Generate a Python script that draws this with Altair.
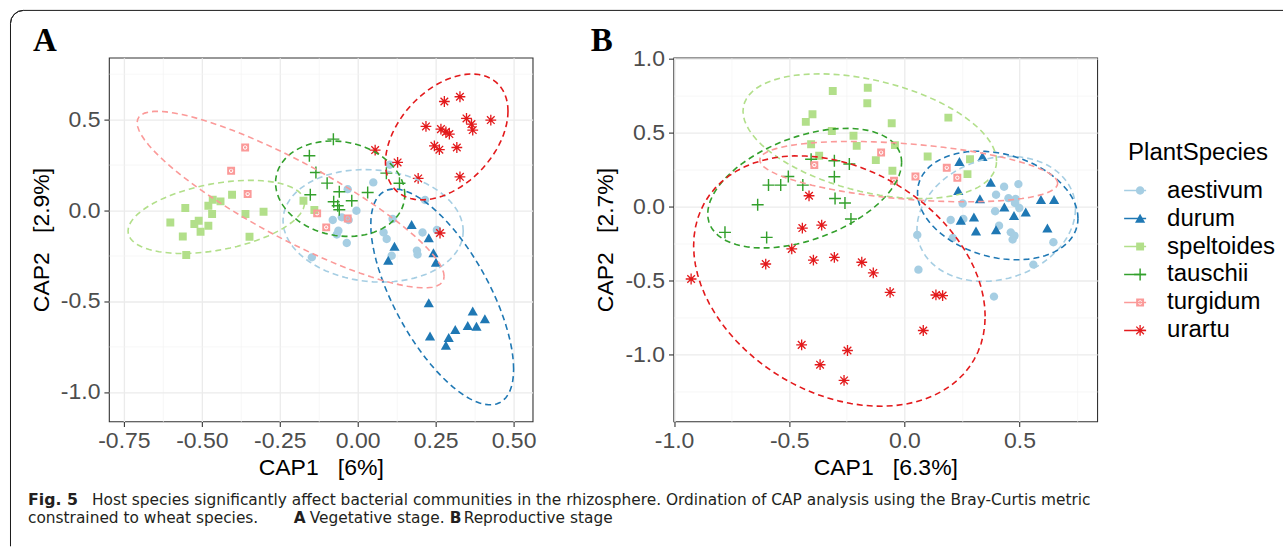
import altair as alt
import numpy as np
import pandas as pd

species = ["aestivum", "durum", "speltoides", "tauschii", "turgidum", "urartu"]
colors = ["#A6CEE3", "#1F78B4", "#B2DF8A", "#33A02C", "#FB9A99", "#E31A1C"]

# ---------------- Panel A (vegetative) ----------------
A_aestivum_x = [0.103, 0.050, -0.032, -0.004, -0.029, -0.051, -0.080, -0.062, -0.067, -0.035, -0.147, 0.112, 0.083, 0.093, 0.109, 0.190, 0.192, 0.216, 0.208, 0.254]
A_aestivum_y = [0.249, 0.152, 0.115, -0.004, -0.055, -0.040, -0.055, -0.114, -0.134, -0.181, -0.260, -0.049, -0.123, -0.159, -0.251, -0.223, -0.245, 0.055, -0.123, -0.110]
A_durum_x = [0.173, 0.228, 0.118, 0.098, 0.243, 0.251, 0.228, 0.369, 0.408, 0.353, 0.381, 0.313, 0.292, 0.283, 0.232]
A_durum_y = [-0.081, -0.154, -0.200, -0.278, -0.236, -0.288, -0.511, -0.557, -0.599, -0.636, -0.641, -0.659, -0.703, -0.745, -0.694]
A_speltoides_x = [-0.553, -0.601, -0.561, -0.550, -0.524, -0.510, -0.504, -0.479, -0.479, -0.467, -0.465, -0.440, -0.403, -0.360, -0.347, -0.302, -0.174, -0.139]
A_speltoides_y = [0.011, -0.068, -0.145, -0.247, -0.077, -0.059, -0.119, -0.086, 0.024, -0.022, 0.057, 0.048, 0.084, -0.022, -0.147, -0.009, 0.051, 0.000]
A_tauschii_x = [-0.078, -0.155, -0.134, -0.098, -0.152, -0.059, -0.077, -0.064, -0.059, -0.019, 0.032, 0.092, 0.134]
A_tauschii_y = [0.390, 0.299, 0.207, 0.148, 0.084, 0.101, 0.046, 0.024, 0.002, 0.051, 0.097, 0.203, 0.147]
A_turgidum_x = [-0.361, -0.406, -0.353, -0.130, -0.101, -0.032]
A_turgidum_y = [0.344, 0.216, 0.088, -0.018, -0.095, -0.046]
A_urartu_x = [0.278, 0.328, 0.349, 0.365, 0.369, 0.427, 0.219, 0.267, 0.283, 0.294, 0.246, 0.262, 0.318, 0.328, 0.056, 0.128, 0.194, 0.264]
A_urartu_y = [0.597, 0.623, 0.504, 0.473, 0.440, 0.495, 0.460, 0.445, 0.430, 0.418, 0.353, 0.332, 0.344, 0.183, 0.330, 0.262, 0.174, -0.126]

# ---------------- Panel B (reproductive) ----------------
B_aestivum_x = [0.433, 0.495, 0.398, 0.452, 0.483, 0.480, 0.499, 0.394, 0.253, 0.256, 0.201, 0.411, 0.462, 0.478, 0.470, 0.210, 0.056, 0.061, 0.560, 0.647, 0.389]
B_aestivum_y = [0.135, 0.153, 0.081, 0.058, 0.052, 0.025, -0.009, -0.031, 0.022, -0.083, -0.090, -0.128, -0.173, -0.196, -0.222, -0.211, -0.191, -0.425, -0.391, -0.240, -0.607]
B_durum_x = [0.239, 0.339, 0.234, 0.375, 0.328, 0.434, 0.476, 0.527, 0.245, 0.302, 0.311, 0.398, 0.593, 0.650, 0.621]
B_durum_y = [0.303, 0.337, 0.108, 0.164, 0.052, -0.004, -0.061, -0.038, -0.094, -0.072, -0.166, -0.157, 0.047, 0.047, -0.146]
B_speltoides_x = [-0.311, -0.159, -0.161, -0.399, -0.428, -0.055, -0.315, -0.221, -0.207, -0.041, -0.405, -0.370, -0.124, -0.052, 0.101, 0.191, 0.285, 0.274]
B_speltoides_y = [0.782, 0.804, 0.699, 0.625, 0.573, 0.564, 0.512, 0.479, 0.411, 0.416, 0.422, 0.344, 0.315, 0.243, 0.339, 0.602, 0.321, 0.220]
B_tauschii_x = [-0.405, -0.304, -0.239, -0.504, -0.537, -0.590, -0.441, -0.304, -0.301, -0.258, -0.637, -0.232, -0.779, -0.598]
B_tauschii_y = [0.321, 0.310, 0.288, 0.204, 0.146, 0.146, 0.146, 0.202, 0.056, 0.025, 0.013, -0.083, -0.173, -0.207]
B_turgidum_x = [-0.391, -0.101, -0.045, 0.048, 0.184, 0.230]
B_turgidum_y = [0.281, 0.366, 0.175, 0.204, 0.263, 0.196]
B_urartu_x = [-0.926, -0.602, -0.489, -0.443, -0.359, -0.414, -0.395, -0.304, -0.185, -0.135, -0.062, 0.137, 0.166, 0.082, -0.446, -0.366, -0.247, -0.262]
B_urartu_y = [-0.488, -0.387, -0.285, -0.144, -0.124, 0.074, -0.360, -0.342, -0.375, -0.447, -0.578, -0.596, -0.600, -0.836, -0.933, -1.067, -0.971, -1.173]

A_x_ticks = [-0.75, -0.625, -0.5, -0.375, -0.25, -0.125, 0.0, 0.125, 0.25, 0.375, 0.5]
A_y_ticks = [-1.0, -0.75, -0.5, -0.25, 0.0, 0.25, 0.5, 0.75]
B_x_ticks = [-1.0, -0.75, -0.5, -0.25, 0.0, 0.25, 0.5, 0.75]
B_y_ticks = [-1.25, -1.0, -0.75, -0.5, -0.25, 0.0, 0.25, 0.5, 0.75, 1.0]

caption_bold = "Fig. 5"
caption_line1 = ("Host species significantly affect bacterial communities in the rhizosphere. "
                 "Ordination of CAP analysis using the Bray-Curtis metric")
caption_line2 = ["constrained to wheat species.", "A", "Vegetative stage.", "B", "Reproductive stage"]

PANEL_A = {
    "aestivum": (A_aestivum_x, A_aestivum_y), "durum": (A_durum_x, A_durum_y),
    "speltoides": (A_speltoides_x, A_speltoides_y), "tauschii": (A_tauschii_x, A_tauschii_y),
    "turgidum": (A_turgidum_x, A_turgidum_y), "urartu": (A_urartu_x, A_urartu_y),
}
PANEL_B = {
    "aestivum": (B_aestivum_x, B_aestivum_y), "durum": (B_durum_x, B_durum_y),
    "speltoides": (B_speltoides_x, B_speltoides_y), "tauschii": (B_tauschii_x, B_tauschii_y),
    "turgidum": (B_turgidum_x, B_turgidum_y), "urartu": (B_urartu_x, B_urartu_y),
}


# ---------- stat_ellipse (type "t", level 0.95) ----------
def cov_trob(X, nu=5, maxit=25, tol=0.01):
    n, p = X.shape
    wt = np.ones(n)
    loc = X.mean(axis=0)
    w = np.sqrt(wt)
    Xc = X - loc
    for _ in range(maxit):
        w0 = w
        Xc = X - loc
        _, d, Vt = np.linalg.svd(np.sqrt(w / w.sum())[:, None] * Xc, full_matrices=False)
        wX = Xc @ Vt.T @ np.diag(1.0 / d)
        Q = (wX ** 2).sum(axis=1)
        w = (wt * (nu + p)) / (nu + Q)
        loc = (w[:, None] * X).sum(axis=0) / w.sum()
        if np.all(np.abs(w - w0) < tol):
            break
    sw = np.sqrt(w)[:, None] * Xc
    cov = sw.T @ sw / wt.sum()
    return loc, cov


def ellipse_df(panel, segments=80, level=0.95):
    rows = []
    for sp, (xs, ys) in panel.items():
        X = np.column_stack([xs, ys])
        center, shape = cov_trob(X)
        dfd = len(xs) - 1
        qf = dfd / 2.0 * ((1 - level) ** (-2.0 / dfd) - 1)
        radius = np.sqrt(2 * qf)
        ang = np.linspace(0, 2 * np.pi, segments + 1)
        circ = np.column_stack([np.cos(ang), np.sin(ang)])
        chol = np.linalg.cholesky(shape).T
        pts = center + radius * circ @ chol
        for i, (ex, ey) in enumerate(pts):
            rows.append({"species": sp, "x": ex, "y": ey, "i": i})
    return pd.DataFrame(rows)


def points_df(panel):
    rows = []
    for sp, (xs, ys) in panel.items():
        for a, b in zip(xs, ys):
            rows.append({"species": sp, "x": a, "y": b})
    return pd.DataFrame(rows)


# ---------- symbol shapes (unit square -1..1) ----------
def bar(angle, L, W):
    t = np.deg2rad(angle)
    u = np.array([np.cos(t), np.sin(t)])
    nvec = np.array([-np.sin(t), np.cos(t)])
    c = [-L * u - W * nvec, L * u - W * nvec, L * u + W * nvec, -L * u + W * nvec]
    return "M" + "L".join(f"{p[0]:.3f},{p[1]:.3f}" for p in c) + "Z"


circle_path = "M0.7,0A0.7,0.7,0,1,1,-0.7,0A0.7,0.7,0,1,1,0.7,0Z"
triangle_path = "M0,-0.8L0.85,0.7L-0.85,0.7Z"
square_path = "M-0.66,-0.66H0.66V0.66H-0.66Z"
plus_path = bar(0, 1.0, 0.12) + " " + bar(90, 1.0, 0.12)
ring_square_path = (square_path + " M0.36,0A0.36,0.36,0,1,0,-0.36,0A0.36,0.36,0,1,0,0.36,0Z"
                    + " M0.2,0A0.2,0.2,0,1,1,-0.2,0A0.2,0.2,0,1,1,0.2,0Z")
star_path = " ".join(bar(a, 0.9, 0.11) for a in (0, 45, 90, 135))
shape_paths = [circle_path, triangle_path, square_path, plus_path, ring_square_path, star_path]

FONT = "Liberation Sans"
NB = "\u00a0"
MINUS = "\u2212"

legend_common = dict(orient="none", legendY=83, padding=0,
                     titleFont=FONT, titleFontSize=24, titleFontWeight="normal",
                     labelFont=FONT, labelFontSize=24, rowPadding=4, titlePadding=14)
pt_legend = alt.Legend(legendX=1020, title="PlantSpecies", symbolSize=144, labelOffset=15,
                       symbolStrokeWidth=0, titleColor="black", labelColor="black", **legend_common)
ln_legend = alt.Legend(legendX=1015, title=" ", symbolType="stroke", symbolSize=484,
                       symbolStrokeWidth=1.6, symbolDash=[1, 0], labelOffset=10,
                       labelExpr="' '", titleColor="transparent", labelColor="transparent",
                       **legend_common)


def make_axis(values, test, fmt, title, lab_pad, title_pad):
    return alt.Axis(
        values=values, title=title,
        labelExpr=f"({test}) ? replace(format(datum.value, '{fmt}'), '{MINUS}', '-') : ''",
        gridColor={"condition": {"test": test, "value": "#EBEBEB"}, "value": "#F3F3F3"},
        gridWidth={"condition": {"test": test, "value": 1.3}, "value": 0.7},
        tickOpacity={"condition": {"test": test, "value": 1}, "value": 0},
        labelOverlap=False, labelFlush=False, labelBound=False,
        labelPadding=lab_pad, titlePadding=title_pad,
    )


def panel_chart(panel, xdom, ydom, xticks, yticks, xtest, xfmt, ytest, yfmt, xtitle, ytitle, extras):
    x_axis = make_axis(xticks, xtest, xfmt, xtitle, 3, 4)
    y_axis = make_axis(yticks, ytest, yfmt, ytitle, 4, 7)
    x_scale = alt.Scale(domain=xdom, nice=False, zero=False)
    y_scale = alt.Scale(domain=ydom, nice=False, zero=False)
    pts = alt.Chart(points_df(panel)).mark_point(
        filled=True, size=144, opacity=1, strokeWidth=0, clip=True
    ).encode(
        x=alt.X("x:Q", scale=x_scale, axis=x_axis),
        y=alt.Y("y:Q", scale=y_scale, axis=y_axis),
        color=alt.Color("species:N", scale=alt.Scale(domain=species, range=colors), legend=pt_legend),
        shape=alt.Shape("species:N", scale=alt.Scale(domain=species, range=shape_paths), legend=pt_legend),
    )
    ells = alt.Chart(ellipse_df(panel)).mark_line(
        strokeDash=[6, 4], strokeWidth=1.6, clip=True
    ).encode(
        x=alt.X("x:Q", scale=x_scale, axis=x_axis),
        y=alt.Y("y:Q", scale=y_scale, axis=y_axis),
        stroke=alt.Stroke("species:N", scale=alt.Scale(range=colors), legend=ln_legend),
        order=alt.Order("i:Q"),
    )
    return alt.layer(pts, ells, *extras).properties(width=424, height=364)


one = pd.DataFrame({"k": [0]})


def label_text(txt, x, y, size, font, weight="normal", color="black"):
    return alt.Chart(one).mark_text(
        text=txt, font=font, fontSize=size, fontWeight=weight, align="left",
        baseline="alphabetic", color=color
    ).encode(x=alt.value(x), y=alt.value(y))


# decorations for panel A (pixel offsets relative to panel A plot origin)
frame_color = "#1a1a1a"
frame_top = alt.Chart(one).mark_rule(color=frame_color, strokeWidth=1).encode(
    x=alt.value(-85.5), x2=alt.value(1175), y=alt.value(-47.3))
frame_left = alt.Chart(one).mark_rule(color=frame_color, strokeWidth=1).encode(
    x=alt.value(-98.5), y=alt.value(-34.3), y2=alt.value(489))
frame_corner = alt.Chart(one).mark_arc(
    filled=False, stroke=frame_color, strokeWidth=1, radius=13, radius2=13,
    theta=4.712389, theta2=6.283185
).encode(x=alt.value(-85.5), y=alt.value(-34.3))

cap_font = "DejaVu Sans"
cap_color = "#231F20"
CS = 15.4
L1 = 447.2
L2 = 465.2
extras_A = [
    frame_top, frame_left, frame_corner,
    label_text("A", -76, -6.3, 33, "Liberation Serif", "bold"),
    label_text(caption_bold, -81, L1, 15.8, cap_font, "bold", cap_color),
    label_text(caption_line1, -17, L1, CS, cap_font, "normal", cap_color),
    label_text(caption_line2[0], -81, L2, CS, cap_font, "normal", cap_color),
    label_text(caption_line2[1], 185, L2, CS, cap_font, "bold", cap_color),
    label_text(caption_line2[2], 201, L2, CS, cap_font, "normal", cap_color),
    label_text(caption_line2[3], 341, L2, CS, cap_font, "bold", cap_color),
    label_text(caption_line2[4], 355, L2, CS, cap_font, "normal", cap_color),
]
extras_B = [label_text("B", -82.7, -6.3, 33, "Liberation Serif", "bold")]

test_q = "abs(datum.value*4 - round(datum.value*4)) < 0.01"
test_h = "abs(datum.value*2 - round(datum.value*2)) < 0.01"

chart_A = panel_chart(PANEL_A, [-0.798, 0.561], [-1.162, 0.838], A_x_ticks, A_y_ticks,
                      test_q, ".2f", test_h, ".1f",
                      f"CAP1{NB}{NB}{NB}[6%]", f"CAP2{NB}{NB}{NB}[2.9%]", extras_A)
chart_B = panel_chart(PANEL_B, [-1.0026, 0.837], [-1.4497, 1.0067], B_x_ticks, B_y_ticks,
                      test_h, ".1f", test_h, ".1f",
                      f"CAP1{NB}{NB}{NB}[6.3%]", f"CAP2{NB}{NB}{NB}[2.7%]", extras_B)

chart = alt.hconcat(chart_A, chart_B, spacing=141, bounds="flush").properties(
    padding={"left": 7, "top": 7.5, "right": 0, "bottom": 0}
).configure_view(
    stroke="#333333", strokeWidth=1.1
).configure_axis(
    domain=False, tickColor="#333333", tickWidth=1.1, tickSize=5,
    labelFont=FONT, labelFontSize=23, labelColor="#4D4D4D",
    titleFont=FONT, titleFontSize=23, titleFontWeight="normal", titleColor="black",
)

chart.save("out.html", embed_options={"renderer": "svg", "actions": False})
